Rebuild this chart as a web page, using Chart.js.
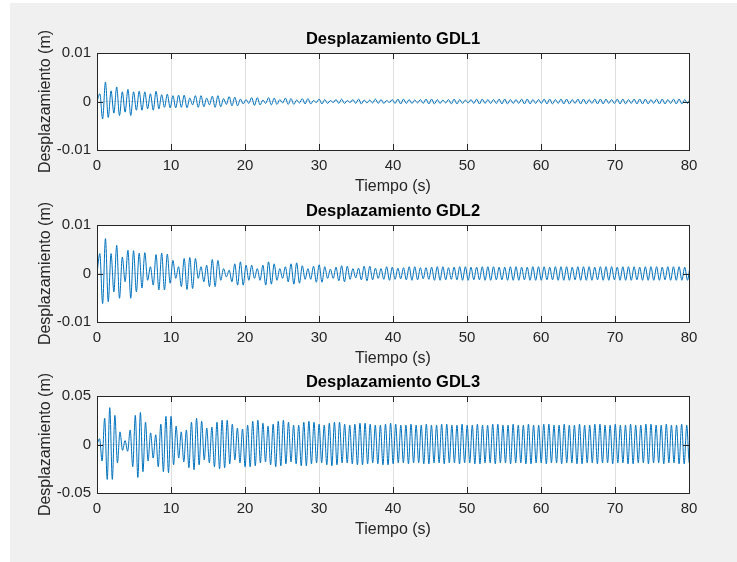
<!DOCTYPE html>
<html>
<head>
<meta charset="utf-8">
<script src="https://cdn.jsdelivr.net/npm/chart.js@4"></script>
<style>
  html, body { margin: 0; padding: 0; background: #fff; }
  #fondo { position: absolute; left: 10px; top: 3px; width: 727px; height: 559px; background: #f0f0f0; }
  canvas { position: absolute; left: 10px; }
</style>
</head>
<body>
<div id="fondo"></div>
<canvas id="gdl1" width="727" height="175" style="top:25px"></canvas>
<canvas id="gdl2" width="727" height="175" style="top:197px"></canvas>
<canvas id="gdl3" width="727" height="175" style="top:368px"></canvas>
<script>
const tiempoTicks = [0, 10, 20, 30, 40, 50, 60, 70, 80];
const ticksGDL12 = [-0.01, 0, 0.01];
const ticksGDL3 = [-0.05, 0, 0.05];
const titulos = ['Desplazamiento GDL1', 'Desplazamiento GDL2', 'Desplazamiento GDL3'];

// picos y valles (uno cada medio periodo)
// GDL1 y GDL2 en 1e-4 m, GDL3 en 1e-3 m
const pasoGDL12 = 0.38;  // s entre extremos
const pasoGDL3 = 0.345;

const gdl1 = [0,
  16,-36,40,-33,22,-24,30,-29,20,-22,25,-29,20,-18,21,-18,20,-15,16,-18,21,-15,14,-12,15,-13,
  12,-13,13,-12,13,-13,7,-7,12,-12,12,-11,7,-7,11,-12,12,-11,6,-6,10,-9,9,-9,5,-5,
  4,-4,8,-8,8,-7,3,-4,8,-7,7,-6,4,-3,7,-6,6,-6,3,-3,6,-5,6,-5,2,-2,
  5,-5,4,-4,2,-2,4,-4,5,-4,2,-2,4,-4,5,-5,3,-3,3,-3,5,-4,4,-4,2,-2,
  4,-4,5,-5,5,-4,4,-4,3,-3,4,-4,5,-5,5,-5,4,-4,3,-3,
  4,-5,5,-5,4,-4,3,-3,4,-4,5,-5,5,-4,4,-4,4,-4,5,-5,
  5,-5,4,-4,4,-4,5,-5,5,-5,4,-4,4,-4,5,-5,5,-5,4,-4,
  5,-5,5,-5,4,-4,5,-5,5,-5,4,-4,5,-5,5,-5,5,-4,4,-4,
  5,-5,5,-5,4,-4,5,-5,5,-5,5,-5,4,-4,5,-5,5,-5,4,-4,
  5,-5,5,-5,4,-4,5,-5];

const gdl2 = [0,
  41,-62,72,-58,41,-38,58,-51,34,-17,48,-51,47,-38,42,-30,43,-14,14,-24,39,-34,42,-34,40,-20,
  27,-10,14,-27,31,-33,33,-31,31,-10,14,-17,17,-27,29,-27,27,-14,10,-7,7,-17,20,-24,24,-24,
  17,-14,17,-10,10,-14,17,-24,24,-22,20,-14,10,-10,14,-17,20,-22,22,-20,16,-12,10,-12,15,-18,
  18,-18,14,-10,9,-10,13,-15,16,-17,15,-12,10,-9,11,-13,15,-15,15,-13,11,-10,10,-12,14,-14,
  13,-12,11,-11,12,-13,14,-14,14,-13,12,-11,12,-12,13,-14,14,-14,14,-13,
  12,-12,13,-13,14,-14,14,-14,13,-13,13,-13,14,-14,14,-14,14,-13,13,-13,
  13,-14,14,-14,14,-14,13,-13,13,-14,14,-14,14,-14,14,-13,13,-13,14,-14,
  14,-14,14,-14,13,-13,14,-14,14,-14,14,-14,13,-13,14,-14,14,-14,14,-13,
  13,-14,14,-14,14,-14,14,-13,13,-14,14,-14,14,-14,14,-14,13,-13,14,-14,
  14,-14,14,-14,13,-14,14,-14];

const gdl3 = [0,
  6,-17,27,-36,38,-36,30,-19,13,-6,4,-7,15,-23,30,-34,33,-28,23,-17,
  12,-14,10,-23,21,-28,29,-29,29,-21,19,-14,13,-18,15,-24,23,-26,27,-21,
  24,-16,17,-19,18,-23,23,-25,25,-24,25,-20,21,-16,17,-19,16,-23,
  20,-23,24,-22,25,-19,22,-18,19,-21,21,-23,24,-22,25,-20,23,-18,20,-20,
  20,-22,23,-22,24,-20,23,-19,21,-19,20,-21,22,-22,23,-21,23,-19,21,-19,
  20,-20,21,-21,22,-21,22,-20,21,-19,20,-20,20,-21,21,-21,22,-20,
  21,-19,20,-19,20,-20,21,-19,20,-19,20,-20,21,-20,20,-19,20,-19,21,-20,
  21,-19,20,-19,20,-20,21,-19,20,-19,20,-20,21,-20,20,-19,20,-19,21,-20,
  21,-19,20,-19,20,-20,21,-19,20,-19,20,-20,21,-20,20,-19,20,-19,21,-20,
  21,-19,20,-19,20,-20,21,-19,20,-19,20,-20,21,-20,20,-19,20,-19,21,-20,
  21,-19,20,-19,20,-20,21,-19,20,-19,20,-20,21,-20,20,-19,20,-19,21,-20,
  21,-19,20,-19,20,-20,21,-19,20,-19,20,-20,21,-20,20,-19,20,-19,21,-20];

const fuente = '"Liberation Sans", Arial, Helvetica, sans-serif';

function puntos(valores, paso, unidad) {
  return valores.map((v, k) => ({ x: k * paso, y: v * unidad }));
}

// fondo blanco del area y caja con marcas hacia dentro, estilo MATLAB
const marco = {
  id: 'marco',
  beforeDraw(chart) {
    const { ctx, chartArea: a } = chart;
    ctx.save();
    ctx.fillStyle = '#fff';
    ctx.fillRect(a.left, a.top, a.right - a.left, a.bottom - a.top);
    ctx.restore();
  },
  afterDraw(chart) {
    const { ctx, chartArea: a, scales: { x, y } } = chart;
    const largo = 6;
    ctx.save();
    ctx.strokeStyle = '#262626';
    ctx.lineWidth = 1;
    ctx.beginPath();
    x.ticks.forEach(t => {
      const px = Math.round(x.getPixelForValue(t.value)) + 0.5;
      ctx.moveTo(px, a.top); ctx.lineTo(px, a.top + largo);
      ctx.moveTo(px, a.bottom); ctx.lineTo(px, a.bottom - largo);
    });
    y.ticks.forEach(t => {
      const py = Math.round(y.getPixelForValue(t.value)) + 0.5;
      ctx.moveTo(a.left, py); ctx.lineTo(a.left + largo, py);
      ctx.moveTo(a.right, py); ctx.lineTo(a.right - largo, py);
    });
    ctx.stroke();
    ctx.strokeRect(a.left + 0.5, a.top + 0.5, a.right - a.left, a.bottom - a.top);
    ctx.restore();
  }
};

function grafica(id, titulo, datos, yTicks) {
  new Chart(document.getElementById(id), {
    type: 'line',
    data: {
      datasets: [{
        data: datos,
        borderColor: '#0072BD',
        borderWidth: 1,
        pointRadius: 0,
        cubicInterpolationMode: 'monotone',
        fill: false
      }]
    },
    options: {
      responsive: false,
      animation: false,
      devicePixelRatio: 1,
      layout: { padding: { left: 0, right: 48, top: 0, bottom: 0 } },
      plugins: {
        legend: { display: false },
        tooltip: { enabled: false },
        title: {
          display: true,
          fullSize: false,
          text: titulo,
          color: '#000',
          font: { family: fuente, size: 16.5, weight: 'bold', lineHeight: 1.2 },
          padding: { top: 4.2, bottom: 4 }
        }
      },
      scales: {
        x: {
          type: 'linear',
          min: 0,
          max: 80,
          afterBuildTicks: s => { s.ticks = tiempoTicks.map(v => ({ value: v })); },
          afterFit: s => { s.height = 50; },
          grid: { color: '#dfdfdf', drawTicks: false },
          border: { display: false },
          ticks: { color: '#262626', font: { family: fuente, size: 15 }, padding: 7, maxRotation: 0, autoSkip: false },
          title: { display: true, text: 'Tiempo (s)', color: '#262626', font: { family: fuente, size: 16 }, padding: { top: 0, bottom: 4 } }
        },
        y: {
          min: yTicks[0],
          max: yTicks[yTicks.length - 1],
          afterBuildTicks: s => { s.ticks = yTicks.map(v => ({ value: v })); },
          afterFit: s => { s.width = 87; },
          grid: { color: '#dfdfdf', drawTicks: false },
          border: { display: false },
          ticks: { color: '#262626', font: { family: fuente, size: 15 }, padding: 6, callback: v => String(v) },
          title: { display: true, text: 'Desplazamiento (m)', color: '#262626', font: { family: fuente, size: 16 }, padding: { top: 26, bottom: 0 } }
        }
      }
    },
    plugins: [marco]
  });
}

grafica('gdl1', titulos[0], puntos(gdl1, pasoGDL12, 1e-4), ticksGDL12);
grafica('gdl2', titulos[1], puntos(gdl2, pasoGDL12, 1e-4), ticksGDL12);
grafica('gdl3', titulos[2], puntos(gdl3, pasoGDL3, 1e-3), ticksGDL3);
</script>
</body>
</html>
